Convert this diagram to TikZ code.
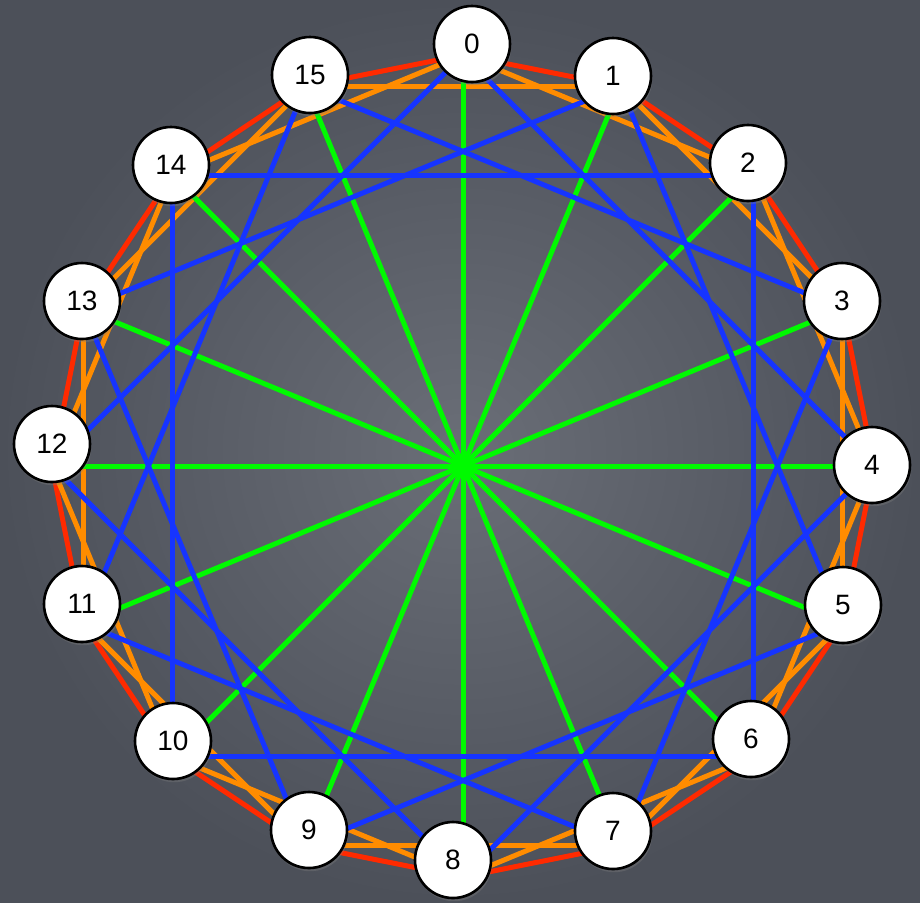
\documentclass[tikz,border=0pt]{standalone}
\usepackage{fontspec}
\setmainfont{Liberation Sans}
\usetikzlibrary{shadows}
\definecolor{slatein}{RGB}{106,110,119}
\definecolor{slateout}{RGB}{76,80,89}
\definecolor{ringred}{RGB}{255,42,0}
\definecolor{ringorange}{RGB}{255,140,0}
\definecolor{ringblue}{RGB}{22,52,255}
\definecolor{ringgreen}{RGB}{0,250,0}

\begin{document}
\begin{tikzpicture}[x=0.5pt,y=-0.5pt,
  vertex/.style={circle,draw,fill=white,line width=1.3pt,minimum size=38pt,
    inner sep=0pt,font=\fontsize{14}{16}\selectfont,
    drop shadow={shadow xshift=0.6pt,shadow yshift=-1.6pt,opacity=0.35}},
  chord/.style={line width=2.5pt}]
% slate background
\shade[inner color=slatein,outer color=slateout] (0,0) rectangle (920,902);
\useasboundingbox (0,0) rectangle (920,902);
% corners of the 16-gon under the discs
\foreach \i in {0,...,15}
  \coordinate (v\i) at ({463+411*cos(90-22.5*\i)},{466-411*sin(90-22.5*\i)});
% chords: step 1, step 2, step 8, step 4
\foreach \i in {0,...,15} {
  \pgfmathtruncatemacro{\j}{mod(\i+1,16)}
  \draw[chord,ringred] (v\i) -- (v\j);
}
\foreach \i in {0,...,15} {
  \pgfmathtruncatemacro{\j}{mod(\i+2,16)}
  \draw[chord,ringorange] (v\i) -- (v\j);
}
\foreach \i in {0,...,7} {
  \pgfmathtruncatemacro{\j}{\i+8}
  \draw[chord,ringgreen] (v\i) -- (v\j);
}
\foreach \i in {0,...,15} {
  \pgfmathtruncatemacro{\j}{mod(\i+4,16)}
  \draw[chord,ringblue] (v\i) -- (v\j);
}
% the discs
\foreach \i/\x/\y in {0/472/44,1/613/76,2/748/163,3/842/301,4/872/465,
    5/843/605,6/751/739,7/613/831,8/453/860,9/309/830,10/173/741,
    11/82/604,12/52/444,13/82/301,14/171/165,15/310/75}
  \node[vertex] (n\i) at (\x,\y) {\i};
\end{tikzpicture}
\end{document}
